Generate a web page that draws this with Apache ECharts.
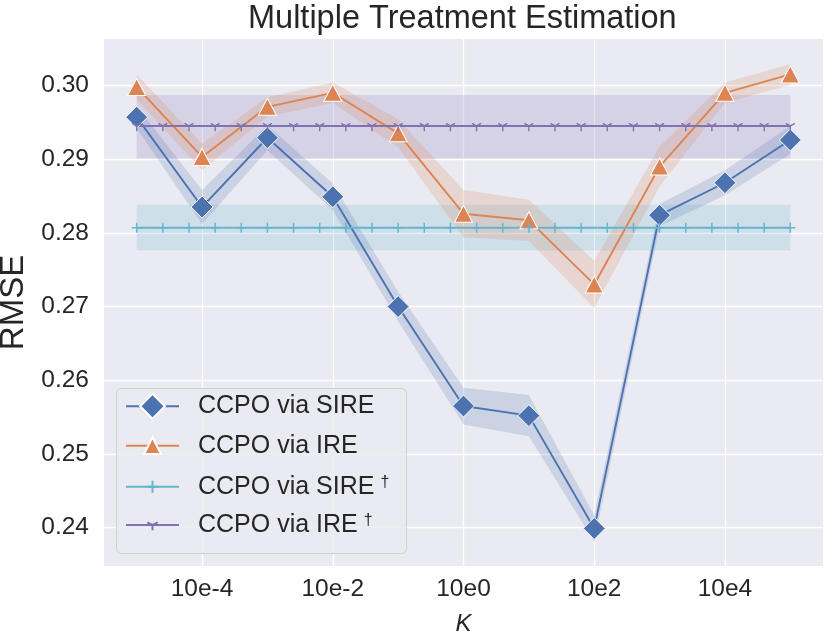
<!DOCTYPE html>
<html><head><meta charset="utf-8">
<script src="https://cdn.jsdelivr.net/npm/echarts@6/dist/echarts.min.js"></script>
<style>html,body{margin:0;padding:0;background:#fff}#chart{width:831px;height:638px}</style>
</head><body><div id="chart"></div>
<script>
// ---- data (x = exponent of K, labels shown as 10e<exp>) ----
const exponents = [-5, -4, -3, -2, -1, 0, 1, 2, 3, 4, 5];
const sireMean = [0.2957, 0.2835, 0.2929, 0.2849, 0.2700, 0.2565, 0.2552, 0.2399, 0.2824, 0.2868, 0.2926];
const sireErr  = [0.0015, 0.0023, 0.0017, 0.0018, 0.0020, 0.0025, 0.0028, 0.0018, 0.0015, 0.0017, 0.0019];
const ireMean  = [0.2998, 0.2903, 0.2971, 0.2990, 0.2935, 0.2826, 0.2817, 0.2730, 0.2890, 0.2990, 0.3015];
const ireErr   = [0.0017, 0.0018, 0.0013, 0.0014, 0.0019, 0.0032, 0.0028, 0.0032, 0.0027, 0.0014, 0.0014];
const daggerX  = [-5, -4.6, -4.2, -3.8, -3.4, -3, -2.6, -2.2, -1.8, -1.4, -1, -0.6, -0.2,
                  0.2, 0.6, 1, 1.4, 1.8, 2.2, 2.6, 3, 3.4, 3.8, 4.2, 4.6, 5];
const sireDaggerY = [0.2807, 0.2807, 0.2807, 0.2807, 0.2807, 0.2807, 0.2807, 0.2807, 0.2807, 0.2807, 0.2807, 0.2807, 0.2807,
                     0.2807, 0.2807, 0.2807, 0.2807, 0.2807, 0.2807, 0.2807, 0.2807, 0.2807, 0.2807, 0.2807, 0.2807, 0.2807];
const ireDaggerY  = [0.2945, 0.2945, 0.2945, 0.2945, 0.2945, 0.2945, 0.2945, 0.2945, 0.2945, 0.2945, 0.2945, 0.2945, 0.2945,
                     0.2945, 0.2945, 0.2945, 0.2945, 0.2945, 0.2945, 0.2945, 0.2945, 0.2945, 0.2945, 0.2945, 0.2945, 0.2945];
const sireDaggerBand = [0.2776, 0.2838];
const ireDaggerBand  = [0.2901, 0.2987];
const xTickValues = [-4, -2, 0, 2, 4];
const yTickValues = [0.24, 0.25, 0.26, 0.27, 0.28, 0.29, 0.30];
const seriesNames = ['CCPO via SIRE', 'CCPO via IRE', 'CCPO via SIRE\u2020', 'CCPO via IRE\u2020'];

// ---- styling ----
const FONT = "'Liberation Sans', Arial, sans-serif";
const TXT = '#262626';
const C_BLUE = '#4C72B0', C_ORANGE = '#DD8452', C_CYAN = '#64B5CD', C_PURPLE = '#8172B3';
const PLUS = 'path://M0,10L20,10M10,0L10,20';
const TRI_DOWN = 'path://M10,0M10,10L10,20M10,10L1.34,5M10,10L18.66,5';

const pairs = (xs, ys) => xs.map((x, i) => [x, ys[i]]);
// rows [x, low, high] for the confidence band
const bandRows = (m, e) => exponents.map((x, i) => [x, +(m[i] - e[i]).toFixed(5), +(m[i] + e[i]).toFixed(5)]);

function bandSeries(name, mean, err, color) {
  return {
    type: 'custom', name: name, silent: true, z: 2,
    data: bandRows(mean, err),
    encode: { x: 0, y: [1, 2] },
    renderItem: function (params, api) {
      if (params.dataIndexInside !== 0) return null;
      const n = params.dataInsideLength;
      const upper = [], lowerPts = [];
      for (let j = 0; j < n; j++) {
        upper.push(api.coord([api.value(0, j), api.value(2, j)]));
        lowerPts.push(api.coord([api.value(0, j), api.value(1, j)]));
      }
      return {
        type: 'polygon',
        shape: { points: upper.concat(lowerPts.reverse()) },
        style: { fill: color, opacity: 0.2 }
      };
    }
  };
}

const legendRows = [
  { name: seriesNames[0], top: 392.8, itemHeight: 31 },
  { name: seriesNames[1], top: 433.2, itemHeight: 21 },
  { name: seriesNames[2], top: 474.2, itemHeight: 15 },
  { name: seriesNames[3], top: 512.5, itemHeight: 13 }
];

const option = {
  animation: false,
  backgroundColor: '#ffffff',
  title: {
    text: 'Multiple Treatment Estimation',
    left: 248, top: 3, padding: 0,
    textStyle: { fontFamily: FONT, fontSize: 32.5, fontWeight: 'normal', color: TXT }
  },
  grid: {
    left: 104, right: 8, top: 39, bottom: 72,
    show: true, backgroundColor: '#EAEAF2', borderWidth: 0,
    containLabel: false, outerBoundsMode: 'none'
  },
  xAxis: {
    type: 'value', min: -5.5, max: 5.5,
    axisLine: { show: false },
    axisTick: { show: false, customValues: xTickValues },
    axisLabel: { customValues: xTickValues, formatter: v => '10e' + v, margin: 11,
                 fontFamily: FONT, fontSize: 24.5, color: TXT },
    splitLine: { show: true, lineStyle: { color: '#ffffff', width: 1.3 } },
    name: 'K', nameLocation: 'middle', nameGap: 46,
    nameTextStyle: { fontFamily: FONT, fontSize: 24, fontStyle: 'italic', color: TXT }
  },
  yAxis: {
    type: 'value', min: 0.2348, max: 0.3063,
    axisLine: { show: false },
    axisTick: { show: false, customValues: yTickValues },
    axisLabel: { customValues: yTickValues, formatter: v => v.toFixed(2), margin: 15,
                 fontFamily: FONT, fontSize: 24.5, color: TXT },
    splitLine: { show: true, lineStyle: { color: '#ffffff', width: 1.3 } },
    name: 'RMSE', nameLocation: 'middle', nameGap: 71, nameRotate: 90,
    nameTextStyle: { fontFamily: FONT, fontSize: 33, color: TXT }
  },
  legend: legendRows.map(r => ({
    data: [r.name], left: 125, top: r.top, orient: 'vertical', padding: 0,
    itemWidth: 53, itemHeight: r.itemHeight, selectedMode: false,
    formatter: name => name.endsWith('\u2020')
      ? '{m|' + name.slice(0, -1) + '}{d|\u2020}'
      : '{m|' + name + '}',
    textStyle: {
      fontFamily: FONT, fontSize: 25, color: TXT,
      rich: {
        m: { fontFamily: FONT, fontSize: 25, color: TXT, padding: [0, 0, 0, 14] },
        d: { fontFamily: FONT, fontSize: 16, color: TXT, verticalAlign: 'top', padding: [0, 0, 0, 6] }
      }
    }
  })),
  graphic: [{
    type: 'rect', z: 3, silent: true,
    shape: { x: 116.5, y: 388.5, width: 290, height: 165, r: 5 },
    style: { fill: 'rgba(234,234,242,0.85)', stroke: '#CFCFD6', lineWidth: 1 }
  }],
  series: [
    bandSeries('sireBand', sireMean, sireErr, C_BLUE),
    bandSeries('ireBand', ireMean, ireErr, C_ORANGE),
    { type: 'line', name: seriesNames[0], data: pairs(exponents, sireMean), z: 3,
      color: C_BLUE, symbol: 'diamond', symbolSize: 22,
      lineStyle: { color: C_BLUE, width: 1.9 },
      itemStyle: { color: C_BLUE, borderColor: '#ffffff', borderWidth: 1 } },
    { type: 'line', name: seriesNames[1], data: pairs(exponents, ireMean), z: 3,
      color: C_ORANGE, symbol: 'triangle', symbolSize: [18, 17],
      lineStyle: { color: C_ORANGE, width: 1.9 },
      itemStyle: { color: C_ORANGE, borderColor: '#ffffff', borderWidth: 1 } },
    { type: 'line', name: seriesNames[2], data: pairs(daggerX, sireDaggerY), z: 3,
      color: C_CYAN, symbol: PLUS, symbolSize: 10,
      lineStyle: { color: C_CYAN, width: 1.9 },
      itemStyle: { color: C_CYAN, borderColor: C_CYAN, borderWidth: 1.5 },
      markArea: { silent: true, itemStyle: { color: C_CYAN, opacity: 0.2 },
        data: [[{ xAxis: daggerX[0], yAxis: sireDaggerBand[0] },
                { xAxis: daggerX[daggerX.length - 1], yAxis: sireDaggerBand[1] }]] } },
    { type: 'line', name: seriesNames[3], data: pairs(daggerX, ireDaggerY), z: 3,
      color: C_PURPLE, symbol: TRI_DOWN, symbolSize: [9, 10.4],
      lineStyle: { color: C_PURPLE, width: 1.9 },
      itemStyle: { color: C_PURPLE, borderColor: C_PURPLE, borderWidth: 1.5 },
      markArea: { silent: true, itemStyle: { color: C_PURPLE, opacity: 0.2 },
        data: [[{ xAxis: daggerX[0], yAxis: ireDaggerBand[0] },
                { xAxis: daggerX[daggerX.length - 1], yAxis: ireDaggerBand[1] }]] } }
  ]
};

const chart = echarts.init(document.getElementById('chart'), null, { renderer: 'canvas' });
chart.setOption(option);
</script>
</body></html>
